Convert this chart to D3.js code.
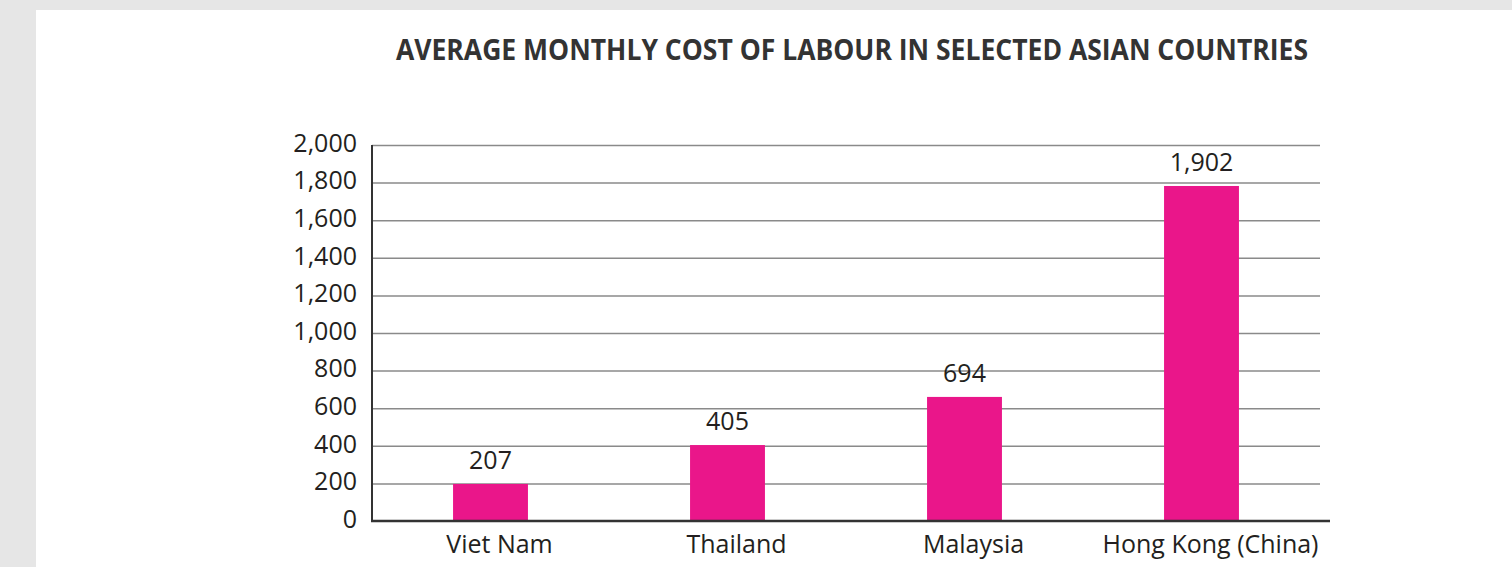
<!DOCTYPE html>
<html>
<head>
<meta charset="utf-8">
<script src="https://cdn.jsdelivr.net/npm/d3@7"></script>
<style>
  html, body { margin: 0; padding: 0; background: #e6e6e6; }
  svg { display: block; }
</style>
</head>
<body>
<svg id="chart" width="1512" height="567"></svg>
<script>
// data
var categories = ["Viet Nam", "Thailand", "Malaysia", "Hong Kong (China)"];
// bar heights as drawn (they don't quite agree with the printed labels)
var barValues = [197, 404, 660, 1782];
// printed value labels
var labelValues = [207, 405, 694, 1902];
var yTicks = [0, 200, 400, 600, 800, 1000, 1200, 1400, 1600, 1800, 2000];

var width = 1512, height = 567;
var margin = { top: 145, right: 192, bottom: 46, left: 372 };
var textColor = "#231f20";
var barColor = "#ea168a";
var fontFamily = "'Open Sans', 'Noto Sans', sans-serif";

var svg = d3.select("#chart");

/* white panel */
svg.append("rect")
    .attr("x", 36)
    .attr("y", 10)
    .attr("width", width - 36)
    .attr("height", height - 10)
    .attr("fill", "#ffffff");

/* title */
svg.append("text")
    .attr("x", 396)
    .attr("y", 60)
    .attr("textLength", 912)
    .attr("lengthAdjust", "spacingAndGlyphs")
    .attr("font-family", "'Liberation Sans Narrow', 'Open Sans', sans-serif")
    .attr("font-weight", "bold")
    .attr("font-size", "29px")
    .attr("fill", "#333333")
    .text("AVERAGE MONTHLY COST OF LABOUR IN SELECTED ASIAN COUNTRIES");

var x = d3.scaleBand()
    .domain(categories)
    .range([margin.left, width - margin.right])
    .padding(0);

var y = d3.scaleLinear()
    .domain([0, 2000])
    .range([height - margin.bottom, margin.top]);

var barW = x.bandwidth() * 0.316;

/* grid lines */
var grid = svg.append("g")
    .attr("transform", "translate(" + margin.left + ",0)")
    .call(d3.axisLeft(y)
        .tickValues(yTicks.filter(function(d) { return d > 0; }))
        .tickSize(-(width - margin.right - margin.left))
        .tickFormat(""));
grid.select(".domain").remove();
grid.selectAll(".tick line")
    .attr("stroke", "#8a8a8a")
    .attr("stroke-width", 1.5);

/* y axis labels */
var yAxis = svg.append("g")
    .attr("transform", "translate(" + margin.left + ",0)")
    .call(d3.axisLeft(y)
        .tickValues(yTicks)
        .tickSize(0)
        .tickPadding(15)
        .tickFormat(d3.format(",")));
yAxis.select(".domain").remove();
yAxis.selectAll("text")
    .attr("dy", "0.25em")
    .attr("font-family", fontFamily)
    .attr("font-size", "25px")
    .attr("fill", textColor);

/* bars */
var bars = svg.append("g");
bars.selectAll("rect")
    .data(categories)
    .enter()
    .append("rect")
    .attr("x", function(d) { return x(d) + (x.bandwidth() - barW) / 2; })
    .attr("y", function(d, i) { return y(barValues[i]); })
    .attr("width", barW)
    .attr("height", function(d, i) { return y(0) - y(barValues[i]); })
    .attr("fill", barColor);

/* value labels */
bars.selectAll("text")
    .data(categories)
    .enter()
    .append("text")
    .attr("x", function(d) { return x(d) + x.bandwidth() / 2; })
    .attr("y", function(d, i) { return y(barValues[i]) - 15; })
    .attr("text-anchor", "middle")
    .attr("font-family", fontFamily)
    .attr("font-size", "25px")
    .attr("fill", textColor)
    .text(function(d, i) { return d3.format(",")(labelValues[i]); });

/* y axis line */
svg.append("line")
    .attr("x1", margin.left)
    .attr("x2", margin.left)
    .attr("y1", y(2000))
    .attr("y2", y(0))
    .attr("stroke", "#333333")
    .attr("stroke-width", 2);

/* x axis */
var xAxis = svg.append("g")
    .attr("transform", "translate(0," + y(0) + ")")
    .call(d3.axisBottom(x).tickSize(0).tickPadding(14));
xAxis.select(".domain").remove();
xAxis.selectAll("text")
    .attr("dx", 9)
    .attr("font-family", fontFamily)
    .attr("font-size", "25px")
    .attr("fill", textColor);

svg.append("line")
    .attr("x1", margin.left - 1)
    .attr("x2", width - margin.right + 10)
    .attr("y1", y(0))
    .attr("y2", y(0))
    .attr("stroke", "#333333")
    .attr("stroke-width", 2.5);
</script>
</body>
</html>
